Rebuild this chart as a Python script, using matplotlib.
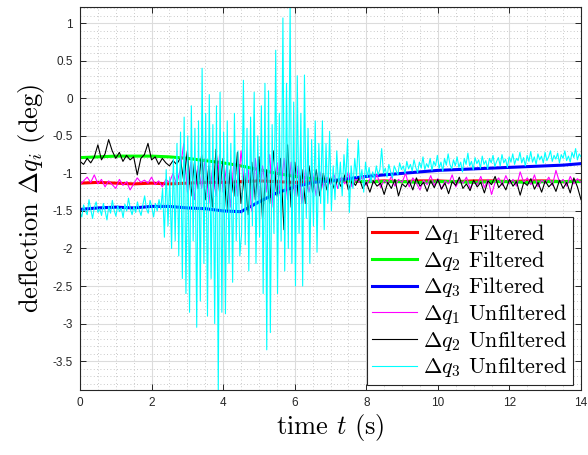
import numpy as np
import matplotlib
matplotlib.use("Agg")
import matplotlib.pyplot as plt
from matplotlib.ticker import MultipleLocator

# --- data ---
# filtered signals, sampled every 0.5 s from 0 to 14 s
dq1_filt = [-1.13, -1.12, -1.13, -1.14, -1.13, -1.14, -1.13, -1.12, -1.12, -1.11,
            -1.10, -1.11, -1.12, -1.11, -1.10, -1.10, -1.11, -1.10, -1.11, -1.10,
            -1.10, -1.11, -1.10, -1.10, -1.11, -1.10, -1.10, -1.11, -1.10]
dq2_filt = [-0.79, -0.78, -0.77, -0.77, -0.77, -0.78, -0.80, -0.83, -0.86, -0.90,
            -0.95, -1.00, -1.04, -1.07, -1.09, -1.10, -1.11, -1.11, -1.11, -1.12,
            -1.11, -1.11, -1.12, -1.11, -1.11, -1.12, -1.11, -1.11, -1.11]
dq3_filt = [-1.48, -1.46, -1.45, -1.46, -1.44, -1.44, -1.46, -1.47, -1.50, -1.51,
            -1.38, -1.26, -1.18, -1.12, -1.10, -1.07, -1.04, -1.02, -1.00, -0.98,
            -0.96, -0.95, -0.94, -0.93, -0.92, -0.91, -0.90, -0.89, -0.87]

# unfiltered q1 and q2, every 0.1 s
dq1_raw = [-1.15, -1.10, -1.05, -1.12, -1.02, -1.14, -1.08, -1.18, -1.10, -1.15,
           -1.20, -1.08, -1.16, -1.11, -1.22, -1.14, -1.06, -1.12, -1.09, -1.13,
           -1.05, -1.15, -1.10, -1.18, -1.08, -1.12, -1.00, -1.15,
           -0.95, -0.60, -1.25, -0.85, -1.35, -0.90, -1.20, -0.80, -1.40, -0.95,
           -1.30, -0.75, -1.25, -0.90, -1.45, -0.85, -1.30, -0.70, -1.20, -0.95,
           -1.50, -0.80, -1.35, -0.90, -1.25, -0.75, -1.45, -0.85, -1.30, -0.80,
           -1.35, -0.85, -1.30, -0.90, -1.40, -0.95, -1.25, -1.00, -1.30, -0.98,
           -1.20, -1.05,
           -1.15, -1.02, -1.20, -1.05, -1.14, -0.98, -1.18, -1.08, -1.12, -1.03,
           -1.16, -1.07, -1.13, -1.01, -1.19, -1.09, -1.14, -1.04, -1.17, -1.08,
           -1.12, -1.00, -1.18, -1.06, -1.13, -1.22, -1.09, -1.15, -1.03, -1.16,
           -1.07, -1.21, -1.10, -1.14, -1.02, -1.18, -1.09, -1.13, -1.05, -1.20,
           -1.11, -1.15, -1.04, -1.19, -1.08, -1.28, -1.12, -1.06, -1.16, -1.03,
           -1.14, -1.08, -1.17, -0.98, -1.12, -1.06, -1.15, -1.02, -1.18, -1.09,
           -1.13, -1.05, -1.16, -0.96, -1.12, -1.08, -1.17, -1.04, -1.14, -1.07,
           -1.12]
dq2_raw = [-0.84, -0.88, -0.80, -0.86, -0.78, -0.62, -0.82, -0.74, -0.55, -0.70,
           -0.80, -0.72, -0.84, -0.76, -0.82, -0.78, -1.02, -0.80, -0.75, -0.60,
           -0.82, -0.78, -0.88, -0.80, -0.86, -0.90, -0.83, -0.88,
           -0.80, -1.10, -0.70, -1.30, -0.85, -1.20, -0.75, -1.35, -0.90, -1.45,
           -0.68, -1.25, -0.80, -1.50, -0.95, -1.30, -0.72, -1.40, -1.00, -1.55,
           -0.85, -1.35, -0.78, -1.60, -0.95, -1.40, -0.70, -1.30, -0.80, -1.75,
           -0.62, -1.45, -0.85, -1.30, -0.95, -1.40, -0.90, -1.25, -0.95, -1.30,
           -1.00, -1.22,
           -1.05, -1.20, -1.08, -1.18, -1.02, -1.22, -1.10, -1.16, -1.06, -1.20,
           -1.12, -1.25, -1.10, -1.17, -1.13, -1.28, -1.12, -1.20, -1.08, -1.30,
           -1.14, -1.18, -1.10, -1.22, -1.06, -1.17, -1.12, -1.24, -1.10, -1.19,
           -1.08, -1.21, -1.13, -1.27, -1.11, -1.16, -1.05, -1.20, -1.14, -1.23,
           -1.09, -1.18, -1.12, -1.26, -1.10, -1.15, -1.04, -1.19, -1.13, -1.22,
           -1.08, -1.17, -1.11, -1.29, -1.12, -1.16, -1.07, -1.21, -1.12, -1.25,
           -1.10, -1.18, -1.13, -1.24, -1.09, -1.20, -1.12, -1.26, -1.06, -1.18,
           -1.35]

# unfiltered q3, every 0.05 s
dq3_raw = [
    # 0.00 - 2.25
    -1.52, -1.58, -1.42, -1.50, -1.55, -1.35, -1.48, -1.60, -1.45, -1.38,
    -1.52, -1.47, -1.56, -1.40, -1.50, -1.62, -1.44, -1.53, -1.36, -1.49,
    -1.57, -1.43, -1.51, -1.46, -1.59, -1.41, -1.50, -1.33, -1.47, -1.55,
    -1.44, -1.52, -1.38, -1.49, -1.56, -1.42, -1.30, -1.47, -1.53, -1.36,
    -1.45, -1.58, -1.40, -1.50, -1.35, -1.48,
    # 2.30 - 7.00
    -1.20, -1.85, -0.95, -1.70, -1.05, -2.00, -0.80, -1.90, -0.60, -2.10,
    -0.45, -2.40, -0.25, -2.60, -0.50, -2.85, -0.10, -1.90, -0.40, -3.05,
    -0.30, -2.70, 0.40, -2.20, -0.20, -2.90, 0.05, -2.40, -0.35, -3.00,
    -0.10, -3.89, 0.08, -2.85, -0.45, -2.87, -0.30, -2.20, -0.60, -2.45,
    -0.20, -1.90, -0.70, -2.10, -1.80, 0.24, -1.95, -0.40, -2.30, -0.25,
    -1.70, 0.08, -2.20, -0.50, -1.85, -0.10, -2.60, 0.20, -3.35, 0.10,
    -3.12, -0.35, -1.80, 0.64, -2.60, -0.20, -1.90, 1.07, -2.30, 0.20,
    -2.00, 1.22, -2.20, -0.05, -2.50, 0.30, -1.80, -0.20, -2.50, 0.31,
    -1.60, -0.40, -2.20, -0.55, -1.70, -0.30, -2.05, -0.60, -1.40, -0.30,
    -1.75, -0.60, -1.40, -0.44, -1.50,
    # 7.05 - 14.00
    -0.90, -1.35, -0.70, -1.20, -0.85, -1.30, -0.75, -1.10, -0.54, -1.52,
    -0.90, -1.20, -0.80, -1.05, -0.56, -1.10, -0.95, -1.25, -0.85, -1.05,
    -0.92, -1.12, -0.98, -1.08, -0.90, -1.02, -0.95, -0.67, -1.00, -0.93,
    -1.05, -0.88, -0.98, -1.06, -0.90, -0.96, -1.02, -0.86, -0.95, -0.90,
    -1.00, -0.84, -0.94, -0.88, -0.97, -0.82, -0.92, -0.99, -0.85, -0.93,
    -0.78, -0.95, -0.87, -0.92, -0.80, -0.96, -0.84, -0.90, -0.76, -0.93,
    -0.85, -0.97, -0.80, -0.89, -0.74, -0.88, -0.94, -0.82, -0.90, -0.78,
    -0.92, -0.85, -0.98, -0.80, -0.88, -0.73, -0.90, -0.84, -0.95, -0.79,
    -0.87, -0.82, -0.93, -0.77, -0.88, -0.83, -0.94, -0.80, -0.86, -0.76,
    -0.91, -0.84, -0.79, -0.90, -0.75, -0.86, -0.81, -0.92, -0.78, -0.85,
    -0.74, -0.88, -0.80, -0.83, -0.72, -0.86, -0.79, -0.90, -0.76, -0.84,
    -0.71, -0.85, -0.78, -0.88, -0.74, -0.82, -0.77, -0.86, -0.72, -0.83,
    -0.78, -0.70, -0.84, -0.76, -0.81, -0.73, -0.86, -0.75, -0.80, -0.70,
    -0.83, -0.77, -0.85, -0.72, -0.79, -0.67, -0.82, -0.74, -0.78,
]

x_ticks = [0, 2, 4, 6, 8, 10, 12, 14]
y_ticks = [1, 0.5, 0, -0.5, -1, -1.5, -2, -2.5, -3, -3.5]
y_tick_labels = ["1", "0.5", "0", "-0.5", "-1", "-1.5", "-2", "-2.5", "-3", "-3.5"]

plt.rcParams.update({
    "mathtext.fontset": "cm",
    "font.family": ["Liberation Sans", "DejaVu Sans"],
    "axes.unicode_minus": False,
})

t_filt = np.linspace(0, 14, len(dq1_filt))
t_raw = np.linspace(0, 14, len(dq1_raw))
t_raw3 = np.linspace(0, 14, len(dq3_raw))

fig = plt.figure(figsize=(5.88, 4.55), dpi=100)
ax = fig.add_axes([80 / 588, 65 / 455, 501 / 588, 383 / 455])

ax.plot(t_filt, dq1_filt, color=(1, 0, 0), lw=2.2, label=r"$\Delta q_1$ Filtered")
ax.plot(t_filt, dq2_filt, color=(0, 1, 0), lw=2.2, label=r"$\Delta q_2$ Filtered")
ax.plot(t_filt, dq3_filt, color=(0, 0, 1), lw=2.2, label=r"$\Delta q_3$ Filtered")
ax.plot(t_raw, dq1_raw, color=(1, 0, 1), lw=0.8, label=r"$\Delta q_1$ Unfiltered")
ax.plot(t_raw, dq2_raw, color="black", lw=0.8, label=r"$\Delta q_2$ Unfiltered")
ax.plot(t_raw3, dq3_raw, color=(0, 1, 1), lw=0.8, label=r"$\Delta q_3$ Unfiltered")

ax.set_xlim(0, 14)
ax.set_ylim(-3.885, 1.216)
ax.set_xticks(x_ticks)
ax.set_yticks(y_ticks)
ax.set_yticklabels(y_tick_labels)
ax.xaxis.set_minor_locator(MultipleLocator(0.5))
ax.yaxis.set_minor_locator(MultipleLocator(0.1))

ax.set_axisbelow(True)
ax.grid(which="major", color="#dcdcdc", lw=0.8, ls="-")
ax.grid(which="minor", color="#b8b8b8", lw=0.6, ls=(0, (1, 3)))

ax.tick_params(which="major", direction="in", length=4, width=0.7, top=True, right=True,
               labelsize=8.5, colors="#262626", pad=5)
ax.tick_params(which="minor", length=0)
for s in ax.spines.values():
    s.set_color("#262626")
    s.set_linewidth(0.8)

ax.set_xlabel(r"time $t$ (s)", fontfamily="cmr10", fontsize=19, labelpad=2)
ax.set_ylabel(r"deflection $\Delta q_i$ (deg)", fontfamily="cmr10", fontsize=19, labelpad=4)

leg = ax.legend(loc="lower right", bbox_to_anchor=(0.984, 0.013), borderaxespad=0,
                prop={"family": "cmr10", "size": 16}, fancybox=False, framealpha=1,
                edgecolor="#262626", handlelength=2.0, handletextpad=0.3,
                labelspacing=0.12, borderpad=0.25)
leg.get_frame().set_linewidth(0.8)

fig.savefig("out.png", dpi=100)
